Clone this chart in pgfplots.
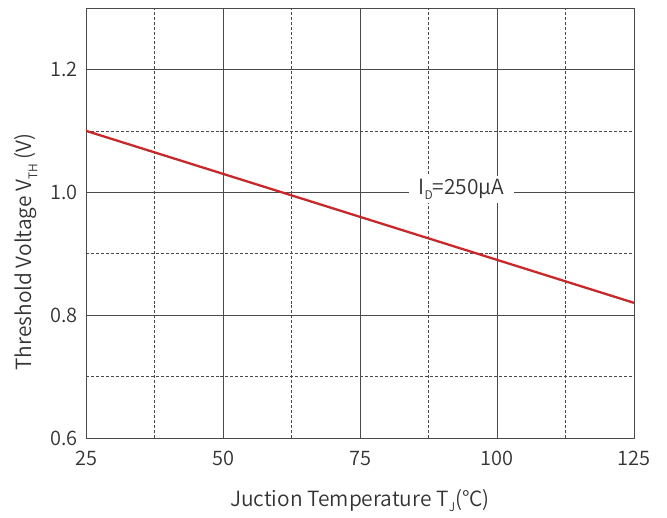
\documentclass[border=0pt]{standalone}
\usepackage{pgfplots}
\pgfplotsset{compat=1.18}
\usepackage{fontspec}
\setmainfont{Noto Sans CJK SC}[UprightFont={* DemiLight}]
\definecolor{gridc}{HTML}{4A4A4A}
\definecolor{txt}{HTML}{333333}
\definecolor{redline}{HTML}{C8282A}
\begin{document}
\begin{tikzpicture}
\path[use as bounding box] (0,0) rectangle (667bp,518bp);
\begin{axis}[
  at={(86bp,80bp)}, anchor=south west,
  scale only axis, width=548bp, height=430bp,
  xmin=25, xmax=125, ymin=0.6, ymax=1.3,
  xtick={25,50,75,100,125},
  ytick={0.6,0.8,1.0,1.2},
  minor xtick={37.5,62.5,87.5,112.5},
  minor ytick={0.7,0.9,1.1},
  yticklabels={0.6,0.8,1.0,1.2},
  major tick length=0pt, minor tick length=0pt,
  grid=both,
  major grid style={gridc, line width=0.6pt},
  minor grid style={gridc, line width=0.6pt, densely dashed},
  axis line style={gridc, line width=0.8pt},
  tick label style={font=\fontsize{20}{22}\selectfont, text=txt},
  /pgf/number format/assume math mode=true,
  xticklabel style={yshift=-10bp},
  yticklabel style={xshift=-5bp},
  label style={font=\fontsize{21}{24}\selectfont, text=txt},
  xlabel={Juction Temperature T\raisebox{-0.5ex}{\fontsize{12}{13}\selectfont J}(°C)},
  ylabel={Threshold Voltage V\raisebox{-0.5ex}{\fontsize{12}{13}\selectfont TH} (V)},
  xlabel style={yshift=-16bp},
  ylabel style={yshift=6bp, xshift=-29bp},
]
\addplot[redline, line width=2.3pt] coordinates {(25,1.10) (50,1.03) (75,0.96) (100,0.89) (125,0.82)};
\node[fill=white, text=txt, inner xsep=10bp, inner ysep=3bp, font=\fontsize{21}{24}\selectfont] at (axis cs:93.5,1.005) {I\raisebox{-0.5ex}{\fontsize{12}{13}\selectfont D}=250µA};
\end{axis}
\end{tikzpicture}
\end{document}
